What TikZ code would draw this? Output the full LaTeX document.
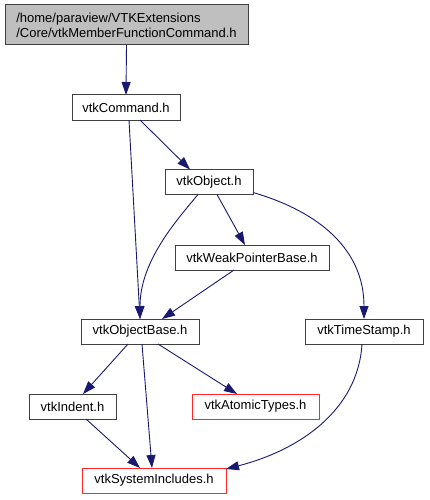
\documentclass[tikz,border=0pt]{standalone}
\usepackage{fontspec}
\setmainfont{Liberation Sans}
\usetikzlibrary{arrows.meta}
\definecolor{edgeblue}{RGB}{25,25,112}
\definecolor{boxline}{RGB}{64,64,64}
\definecolor{boxred}{RGB}{255,40,40}
\definecolor{topgray}{RGB}{191,191,191}
\begin{document}
\begin{tikzpicture}[x=1pt,y=-1pt,
  every node/.style={font=\fontsize{13}{15}\selectfont, inner sep=0pt, outer sep=0pt},
  filebox/.style={draw=boxline, line width=1pt, fill=white, minimum height=25pt},
  redbox/.style={draw=boxred, line width=1pt, fill=white, minimum height=25pt},
  dep/.style={draw=edgeblue, line width=0.9pt, -{Triangle[length=13pt,width=9pt]}}]
\useasboundingbox (0,0) rectangle (429,500);
\node[filebox, fill=topgray, minimum width=243pt, minimum height=40pt, align=left] (top) at (126.5,25)
  {/home/paraview/VTKExtensions\\/Core/vtkMemberFunctionCommand.h};
\node[filebox, minimum width=108pt] (cmd) at (126,107.5) {vtkCommand.h};
\node[filebox, minimum width=88pt] (obj) at (209,182) {vtkObject.h};
\node[filebox, minimum width=154pt] (wpb) at (252,257.5) {vtkWeakPointerBase.h};
\node[filebox, minimum width=118pt] (ob) at (140,331.5) {vtkObjectBase.h};
\node[filebox, minimum width=118pt] (ts) at (364,331.5) {vtkTimeStamp.h};
\node[filebox, minimum width=87pt] (ind) at (72.5,406.5) {vtkIndent.h};
\node[redbox, minimum width=127pt] (at) at (255.5,406.5) {vtkAtomicTypes.h};
\node[redbox, minimum width=144pt] (si) at (154,480.5) {vtkSystemIncludes.h};

\draw[dep] (top.south) -- (cmd.north);
\draw[dep] ([xshift=14pt]cmd.south) -- ([xshift=-19pt]obj.north);
\draw[dep] ([xshift=3pt]cmd.south) -- (ob.north);
\draw[dep] ([xshift=-11pt]obj.south) .. controls (175,222) and (140,262) .. (ob.north);
\draw[dep] ([xshift=8pt]obj.south) -- ([xshift=-7pt]wpb.north);
\draw[dep] ([yshift=2pt]obj.south east) .. controls (320,212) and (364,250) .. (ts.north);
\draw[dep] ([xshift=-18pt]wpb.south) -- ([xshift=22pt]ob.north);
\draw[dep] ([xshift=-12pt]ob.south) -- ([xshift=10.5pt]ind.north);
\draw[dep] ([xshift=2pt]ob.south) -- ([xshift=-2pt]si.north);
\draw[dep] ([xshift=18pt]ob.south) -- ([xshift=-18.5pt]at.north);
\draw[dep] ([xshift=13.5pt]ind.south) -- ([xshift=-14pt]si.north);
\draw[dep] ([xshift=-2pt]ts.south) .. controls (358,410) and (300,450) .. ([yshift=-1pt]si.north east);
\end{tikzpicture}
\end{document}
